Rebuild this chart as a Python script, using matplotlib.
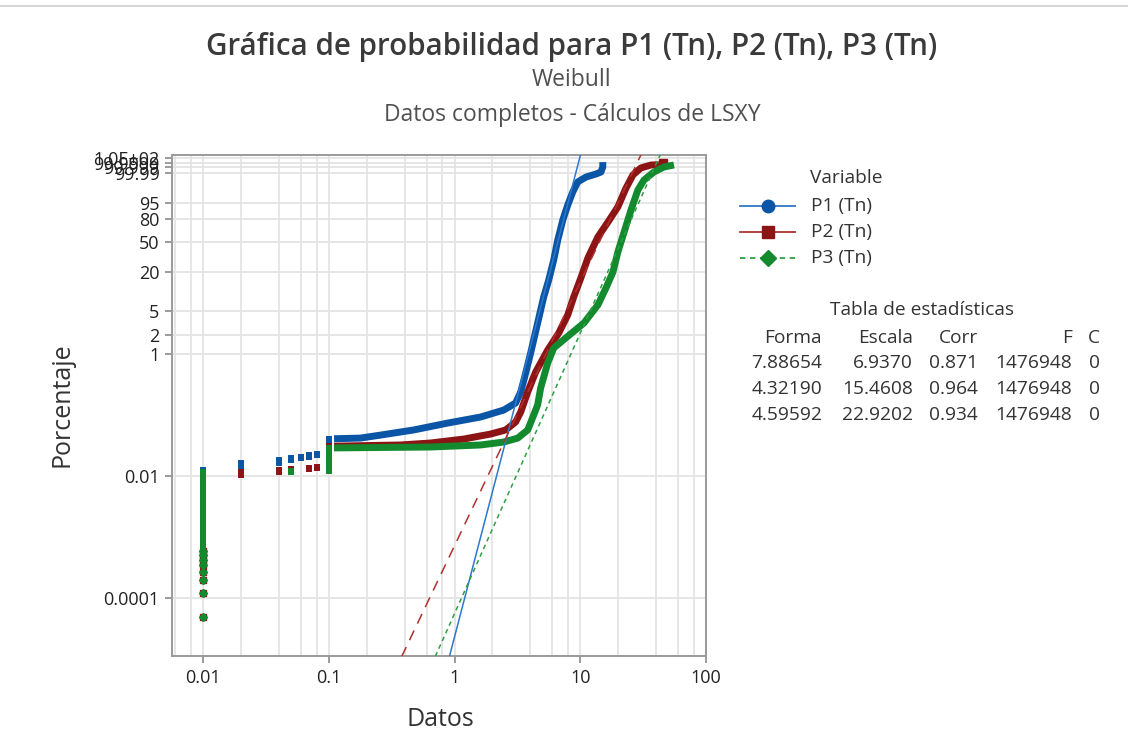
import numpy as np
import matplotlib
matplotlib.use("Agg")
import matplotlib.pyplot as plt
from matplotlib.lines import Line2D

plt.rcParams['font.family'] = ['Open Sans', 'DejaVu Sans']

# Parámetros de la tabla de estadísticas
nombres = ["P1 (Tn)", "P2 (Tn)", "P3 (Tn)"]
forma = [7.88654, 4.32190, 4.59592]
escala = [6.9370, 15.4608, 22.9202]
corr = [0.871, 0.964, 0.934]
n_f = [1476948, 1476948, 1476948]
n_c = [0, 0, 0]

# Primeros puntos sueltos en x = 0.01 (porcentaje)
rangos_001 = [0.00005, 0.00012, 0.0002, 0.00027, 0.00035, 0.00042, 0.0005, 0.0006]
inicio_col = 0.0007

# Escalones para valores bajos (x, porcentaje acumulado)
p1_esc_x = [0.01, 0.02, 0.04, 0.05, 0.06, 0.07, 0.08, 0.1]
p1_esc_pct = [0.0126, 0.0164, 0.0184, 0.0199, 0.0206, 0.0220, 0.0230, 0.0400]
p2_esc_x = [0.01, 0.02, 0.04, 0.05, 0.06, 0.07, 0.08, 0.1]
p2_esc_pct = [0.0105, 0.0117, 0.0126, 0.0130, 0.0133, 0.0136, 0.0140, 0.0310]
p3_esc_x = [0.01, 0.02, 0.03, 0.05, 0.08, 0.1]
p3_esc_pct = [0.0115, 0.0117, 0.0118, 0.0120, 0.0122, 0.0290]

# Curvas densas (x, porcentaje)
p1_x = [0.11, 0.178, 0.257, 0.471, 0.88, 1.61, 2.46, 3.06, 3.36, 3.61, 4.03, 4.58, 5.12,
        5.61, 6.15, 6.62, 7.26, 7.95, 8.71, 9.55, 11.1, 13.3, 14.6, 15.1, 15.1]
p1_pct = [0.041, 0.042, 0.047, 0.057, 0.074, 0.093, 0.121, 0.158, 0.24, 0.42, 1.04, 3.19, 8.3,
          15.1, 29.5, 52.4, 79.4, 93.8, 98.93, 99.87, 99.966, 99.987, 99.9936, 99.99915, 99.99992]
p2_x = [0.11, 0.371, 0.644, 1.18, 1.94, 2.55, 3.06, 3.36, 3.82, 4.42, 5.51, 6.74, 7.95,
        8.87, 10.1, 11.5, 13.8, 16.6, 19.9, 23.1, 26.2, 30.3, 36.5, 42.2]
p2_pct = [0.031, 0.0324, 0.0349, 0.0405, 0.049, 0.0571, 0.0772, 0.1125, 0.24, 0.509, 1.16, 2.19, 4.29,
          8.3, 16.2, 31.4, 56.5, 76.8, 92.5, 99.48, 99.982, 99.9987, 99.99966, 99.9997]
p2_extra_x = [45.4]
p2_extra_pct = [99.99987]
p3_x = [0.11, 0.644, 1.61, 2.46, 3.18, 3.82, 4.26, 4.58, 4.84, 5.51, 6.15, 7.66, 10.7,
        13.8, 16.0, 18.2, 19.9, 22.2, 25.3, 28.7, 32.1, 38.5, 46.3, 55.6]
p3_pct = [0.029, 0.030, 0.0324, 0.0362, 0.042, 0.0571, 0.1004, 0.147, 0.278, 0.716, 1.25, 1.82, 3.19,
          6.2, 11.4, 19.9, 37.6, 62.0, 89.9, 99.25, 99.92, 99.9936, 99.99915, 99.99966]

# Marcas del eje de probabilidad
ytick_pct = [0.0001, 0.01, 1, 2, 5, 20, 50, 80, 95, 99.99, 99.999, 99.9999, 99.99999]
ytick_lbl = ["0.0001", "0.01", "1", "2", "5", "20", "50", "80", "95", "99.99", "99.999", "99.9999", "1.0E+02"]
xtick = [0.01, 0.1, 1, 10, 100]
xtick_lbl = ["0.01", "0.1", "1", "10", "100"]

colores = ["#0A55A5", "#8C1414", "#138A2E"]
colores_ajuste = ["#2F78CC", "#B03030", "#2EA043"]
marcas = ["o", "s", "D"]
estilos = ["-", (0, (7, 5)), (0, (3, 2.5))]
estilos_ley = ["-", "-", (0, (3, 2.5))]


def wb(p):
    # escala de Weibull: ln(-ln(1-p))
    p = np.asarray(p, dtype=float) / 100.0
    return np.log(-np.log(1.0 - p))


fig = plt.figure(figsize=(11.28, 7.55), dpi=100)
ax = fig.add_axes([0.1525, 0.1311, 0.4734, 0.6636])

esc_x = [p1_esc_x, p2_esc_x, p3_esc_x]
esc_pct = [p1_esc_pct, p2_esc_pct, p3_esc_pct]
cur_x = [p1_x, p2_x, p3_x]
cur_pct = [p1_pct, p2_pct, p3_pct]

for i in range(3):
    c = colores[i]
    # puntos sueltos en 0.01
    ax.plot([0.01] * len(rangos_001), wb(rangos_001), ls="none", marker=marcas[i],
            ms=4.2, color=c, zorder=3 + i)
    # escalones
    prev = inicio_col
    for xv, top in zip(esc_x[i], esc_pct[i]):
        ax.plot([xv, xv], [wb(prev), wb(top)], color=c, lw=4.3,
                solid_capstyle="projecting", zorder=3 + i)
        prev = top
    # curva densa
    ax.plot(cur_x[i], wb(cur_pct[i]), color=c, lw=5.0, solid_capstyle="butt",
            solid_joinstyle="round", zorder=3 + i)

ax.plot(p2_extra_x, wb(p2_extra_pct), ls="none", marker="s", ms=6, color=colores[1], zorder=4)

# Rectas de ajuste de Weibull
xs = np.logspace(-2.5, 2.2, 500)
for i in range(3):
    ax.plot(xs, forma[i] * np.log(xs / escala[i]), color=colores_ajuste[i], lw=1.1,
            ls=estilos[i], zorder=8)

# Ejes
ax.set_xscale("log")
ax.set_xticks(xtick)
ax.set_xticklabels(xtick_lbl)
menores = [m * 10.0 ** k for k in range(-3, 2) for m in (2, 4, 6, 8)]
ax.set_xticks(menores, minor=True)
ax.set_yticks(wb(ytick_pct))
ax.set_yticklabels(ytick_lbl)
ax.set_xlim(0.00566, 100)
ax.set_ylim(-16.0, 2.91)
ax.tick_params(axis="both", which="major", labelsize=13, colors="#222222",
               length=5, width=1.2, color="#8a8a8a", pad=4)
ax.tick_params(axis="x", which="minor", length=0)
ax.grid(True, which="both", axis="x", color="#e4e4e4", lw=1.3, zorder=0)
ax.grid(True, which="major", axis="y", color="#e4e4e4", lw=1.3, zorder=0)
ax.set_axisbelow(True)
for s in ax.spines.values():
    s.set_color("#9a9a9a")
    s.set_linewidth(1.4)

# Títulos
fig.text(0.507, 0.938, "Gráfica de probabilidad para P1 (Tn), P2 (Tn), P3 (Tn)",
         ha="center", va="center", fontsize=21.3, fontweight="semibold", color="#3a3a3a")
fig.text(0.507, 0.894, "Weibull", ha="center", va="center", fontsize=16.5, color="#505050")
fig.text(0.507, 0.848, "Datos completos - Cálculos de LSXY", ha="center", va="center",
         fontsize=16.5, color="#505050")
fig.text(62 / 1128, 1 - 405 / 755, "Porcentaje", rotation=90, ha="center", va="center",
         fontsize=18, color="#333333")
fig.text(440 / 1128, 1 - 720 / 755, "Datos", ha="center", va="center",
         fontsize=18, color="#333333")

# Leyenda
fs = 13.8
fig.text(810 / 1128, 1 - 178 / 755, "Variable", ha="left", va="center", fontsize=fs, color="#333333")
ley_y = [206, 232, 258]
for i in range(3):
    yy = 1 - ley_y[i] / 755
    fig.add_artist(Line2D([740 / 1128, 795 / 1128], [yy, yy], transform=fig.transFigure,
                          color=colores_ajuste[i], lw=1.3, ls=estilos_ley[i]))
    fig.add_artist(Line2D([768 / 1128], [yy], transform=fig.transFigure, marker=marcas[i],
                          ms=9 if i == 0 else 8, color=colores[i], ls="none"))
    fig.text(811 / 1128, yy, nombres[i], ha="left", va="center", fontsize=fs, color="#333333")

# Tabla de estadísticas
fig.text(922 / 1128, 1 - 310 / 755, "Tabla de estadísticas", ha="center", va="center",
         fontsize=fs, color="#333333")
col_x = [822, 913, 978, 1072, 1100]
encab = ["Forma", "Escala", "Corr", "F", "C"]
for cx, t in zip(col_x, encab):
    fig.text(cx / 1128, 1 - 338 / 755, t, ha="right", va="center", fontsize=fs, color="#333333")
fila_y = [363, 389, 415]
for i in range(3):
    vals = ["%.5f" % forma[i], "%.4f" % escala[i], "%.3f" % corr[i], str(n_f[i]), str(n_c[i])]
    for cx, t in zip(col_x, vals):
        fig.text(cx / 1128, 1 - fila_y[i] / 755, t, ha="right", va="center", fontsize=fs,
                 color="#333333")

# Línea superior del marco
fig.add_artist(Line2D([0, 1], [1 - 6 / 755, 1 - 6 / 755], transform=fig.transFigure,
                      color="#d8d8d8", lw=1.5))

fig.savefig("out.png", dpi=100)
